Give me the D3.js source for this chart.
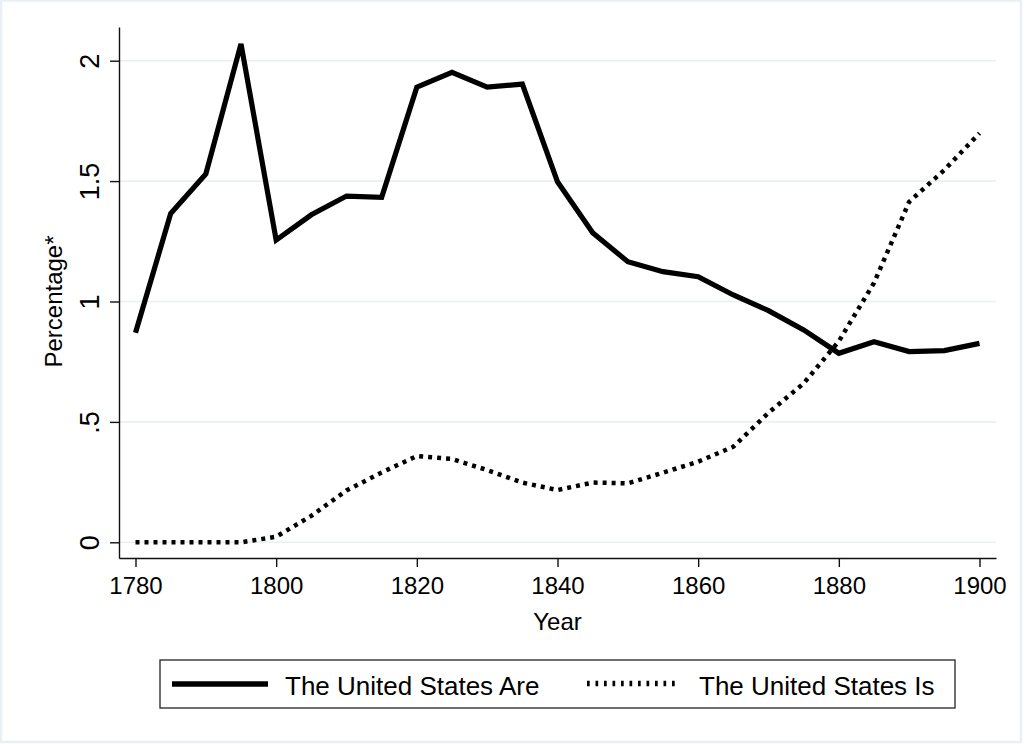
<!DOCTYPE html>
<html>
<head>
<meta charset="utf-8">
<script src="https://cdn.jsdelivr.net/npm/d3@7"></script>
<style>
  html, body { margin: 0; padding: 0; background: #ffffff; }
  svg { display: block; }
  text { font-family: "Liberation Sans", Arial, Helvetica, sans-serif; fill: #000; }
</style>
</head>
<body>
<svg id="chart" width="1024" height="744"></svg>
<script>
// ---- data ----
const years = [1780,1785,1790,1795,1800,1805,1810,1815,1820,1825,1830,1835,1840,1845,1850,1855,1860,1865,1870,1875,1880,1885,1890,1895,1900];
const seriesAre = [0.87,1.365,1.53,2.07,1.255,1.36,1.438,1.433,1.89,1.952,1.89,1.903,1.497,1.286,1.165,1.124,1.103,1.027,0.962,0.882,0.785,0.833,0.792,0.796,0.826];
const seriesIs  = [0,0,0,0,0.023,0.11,0.215,0.29,0.358,0.346,0.30,0.248,0.217,0.248,0.245,0.289,0.335,0.397,0.538,0.66,0.835,1.077,1.414,1.546,1.699];
const seriesNames = ["The United States Are", "The United States Is"];
const xTickValues = [1780,1800,1820,1840,1860,1880,1900];
const yTickValues = [0,0.5,1,1.5,2];
const yTickLabels = ["0",".5","1","1.5","2"];
const xTitle = "Year";
const yTitle = "Percentage*";

// ---- layout ----
const svg = d3.select("#chart");
const W = 1024, H = 744;
const axL = 119, axR = 996, axT = 27, axB = 558;

// outer frame
svg.append("rect").attr("x", 1).attr("y", 0.5).attr("width", 1020).attr("height", 741.5)
  .attr("fill", "#ffffff").attr("stroke", "#e9eff3").attr("stroke-width", 2.5);

const x = d3.scaleLinear().domain([1780, 1900]).range([135.5, 979.5]);
const y = d3.scaleLinear().domain([0, 2]).range([542.3, 60.7]);
const xAxisScale = x.copy().domain([x.invert(axL), x.invert(axR)]).range([axL, axR]);
const yAxisScale = y.copy().domain([y.invert(axB), y.invert(axT)]).range([axB, axT]);

// grid lines
svg.append("g").selectAll("line").data(yTickValues).join("line")
  .attr("x1", axL).attr("x2", axR)
  .attr("y1", d => y(d)).attr("y2", d => y(d))
  .attr("stroke", "#e8f0f2").attr("stroke-width", 1.6);

// y axis
const yAxis = d3.axisLeft(yAxisScale).tickValues(yTickValues)
  .tickFormat((d, i) => yTickLabels[i]).tickSize(9).tickSizeOuter(0);
const gy = svg.append("g").attr("transform", `translate(${axL},0)`).call(yAxis);
gy.select(".domain").attr("stroke", "#111").attr("stroke-width", 1.4);
gy.selectAll(".tick line").attr("stroke", "#111").attr("stroke-width", 1.4);
gy.selectAll(".tick text")
  .attr("x", null).attr("dy", null)
  .attr("transform", "translate(-20,0) rotate(-90)")
  .attr("text-anchor", "middle")
  .style("font-size", "27px")
  .style("font-family", '"Liberation Sans", Arial, sans-serif')
  .attr("fill", "#000");

// x axis
const xAxis = d3.axisBottom(xAxisScale).tickValues(xTickValues)
  .tickFormat(d3.format("d")).tickSize(9).tickSizeOuter(0);
const gx = svg.append("g").attr("transform", `translate(0,${axB})`).call(xAxis);
gx.select(".domain").attr("stroke", "#111").attr("stroke-width", 1.4);
gx.selectAll(".tick line").attr("stroke", "#111").attr("stroke-width", 1.4);
gx.selectAll(".tick text")
  .attr("y", 36).attr("dy", null)
  .style("font-size", "24px")
  .style("font-family", '"Liberation Sans", Arial, sans-serif')
  .attr("fill", "#000");

// axis titles
svg.append("text").attr("x", (x(1780) + x(1900)) / 2).attr("y", 630)
  .attr("text-anchor", "middle").style("font-size", "24px").text(xTitle);
svg.append("text").attr("transform", `translate(62,${(y(0) + y(2)) / 2}) rotate(-90)`)
  .attr("text-anchor", "middle").style("font-size", "24px").text(yTitle);

// lines
const line = d3.line().x((d, i) => x(years[i])).y(d => y(d));
svg.append("path").datum(seriesAre).attr("d", line)
  .attr("fill", "none").attr("stroke", "#000").attr("stroke-width", 5.2)
  .attr("stroke-linejoin", "miter").attr("stroke-miterlimit", 3);
svg.append("path").datum(seriesIs).attr("d", line)
  .attr("fill", "none").attr("stroke", "#000").attr("stroke-width", 4.5)
  .attr("stroke-dasharray", "4,5").attr("stroke-linecap", "butt");

// legend
const lg = svg.append("g");
lg.append("rect").attr("x", 160).attr("y", 660).attr("width", 795).attr("height", 48)
  .attr("fill", "#fff").attr("stroke", "#222").attr("stroke-width", 1.3);
lg.append("line").attr("x1", 172).attr("x2", 268).attr("y1", 684).attr("y2", 684)
  .attr("stroke", "#000").attr("stroke-width", 5.7);
lg.append("text").attr("x", 285).attr("y", 694.5).style("font-size", "26px").text(seriesNames[0]);
lg.append("line").attr("x1", 587).attr("x2", 680).attr("y1", 683.5).attr("y2", 683.5)
  .attr("stroke", "#000").attr("stroke-width", 5.5).attr("stroke-dasharray", "2.7,5.8");
lg.append("text").attr("x", 699).attr("y", 694.5).style("font-size", "26px").text(seriesNames[1]);
</script>
</body>
</html>
